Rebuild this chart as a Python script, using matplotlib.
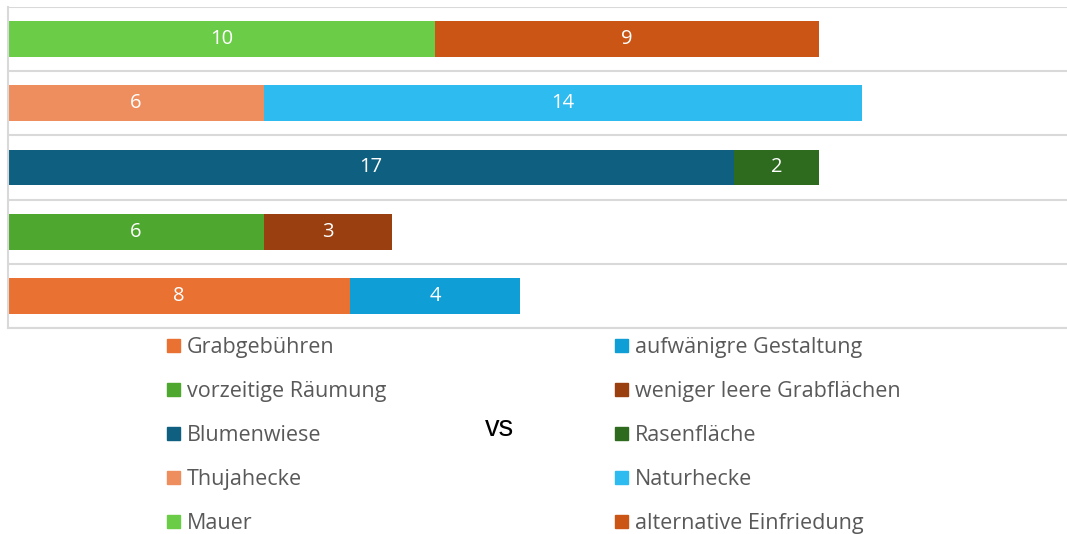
import matplotlib
matplotlib.use("Agg")
import matplotlib.pyplot as plt
from matplotlib.patches import Patch

plt.rcParams["font.family"] = ["Open Sans", "DejaVu Sans"]

# --- Data (rows from top to bottom) ---
left_labels = ["Mauer", "Thujahecke", "Blumenwiese", "vorzeitige Räumung", "Grabgebühren"]
left_values = [10, 6, 17, 6, 8]
left_colors = ["#6BCD47", "#EE8E5E", "#0E5F80", "#4EA72E", "#E97132"]

right_labels = ["alternative Einfriedung", "Naturhecke", "Rasenfläche",
                "weniger leere Grabflächen", "aufwänigre Gestaltung"]
right_values = [9, 14, 2, 3, 4]
right_colors = ["#CB5515", "#2EBBEF", "#2E6B1E", "#9A3F10", "#0F9ED5"]

fig = plt.figure(figsize=(10.67, 5.34), dpi=100)
ax = fig.add_axes([8 / 1067, 1 - 328 / 534, 1 - 8 / 1067, (328 - 7) / 534])

y = list(range(len(left_labels)))
ax.barh(y, left_values, height=0.56, color=left_colors)
ax.barh(y, right_values, left=left_values, height=0.56, color=right_colors)

for i in y:
    ax.text(left_values[i] / 2, i, str(left_values[i]), color="white",
            ha="center", va="center", fontsize=14.5)
    ax.text(left_values[i] + right_values[i] / 2, i, str(right_values[i]),
            color="white", ha="center", va="center", fontsize=14.5)

ax.set_ylim(len(y) - 0.5, -0.5)
ax.set_xlim(0, 24.8)
ax.set_xticks([])
ax.set_yticks([])
for b in range(len(y) + 1):
    ax.axhline(b - 0.5, color="#D9D9D9", lw=1.5, zorder=0)
for s in ["top", "right"]:
    ax.spines[s].set_visible(False)
ax.spines["left"].set_color("#D9D9D9")
ax.spines["left"].set_linewidth(1.5)
ax.spines["bottom"].set_color("#D9D9D9")
ax.spines["bottom"].set_linewidth(1.5)

# --- Legend: two columns ---
leg_order = [4, 3, 2, 1, 0]
for labels, colors, xpos in [(left_labels, left_colors, 167 / 1067),
                             (right_labels, right_colors, 615 / 1067)]:
    handles = [Patch(color=colors[k], label=labels[k]) for k in leg_order]
    leg = fig.legend(handles=handles, loc="upper left",
                     bbox_to_anchor=(xpos, 1 - 337 / 534), frameon=False,
                     fontsize=15.5, handlelength=0.6, handleheight=0.6,
                     handletextpad=0.33, labelspacing=1.07,
                     borderpad=0, borderaxespad=0)
    for t in leg.get_texts():
        t.set_color("#595959")

fig.text(499 / 1067, 1 - 428 / 534, "vs", ha="center", va="center",
         fontsize=21, color="black", family="Liberation Sans")

plt.savefig("out.png", dpi=100)
